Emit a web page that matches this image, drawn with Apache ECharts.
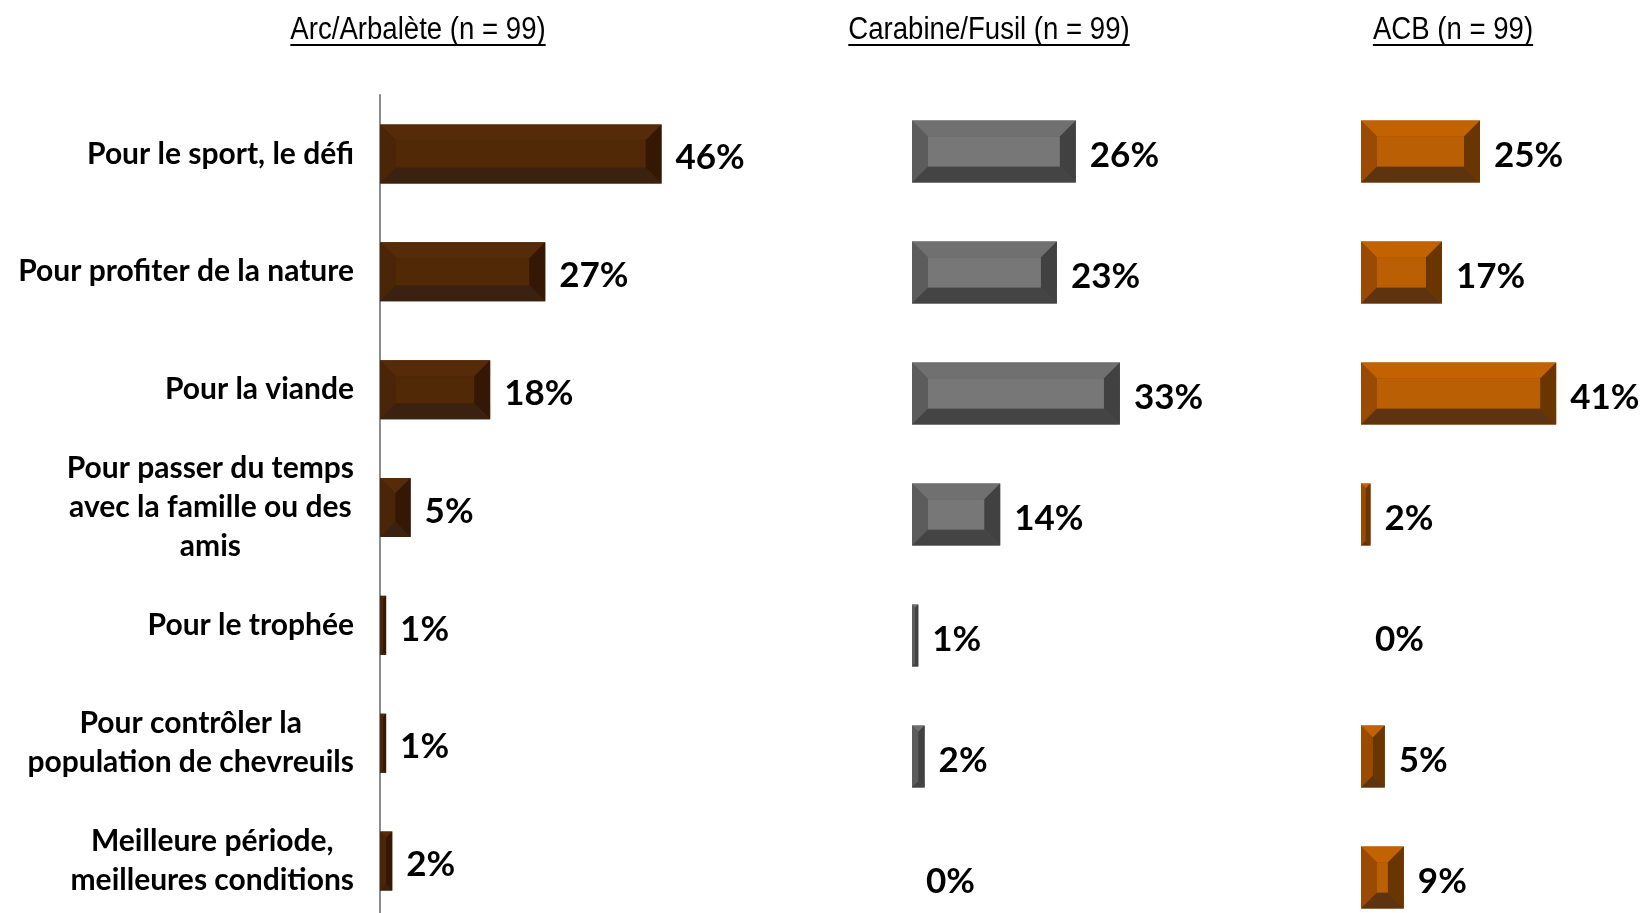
<!DOCTYPE html>
<html><head><meta charset="utf-8">
<script src="https://cdn.jsdelivr.net/npm/echarts@6/dist/echarts.min.js"></script>
<style>html,body{margin:0;padding:0;background:#fff;overflow:hidden}#c{width:1643px;height:960px}</style>
</head><body><div id="c"></div>
<script>
const categories = ["Pour le sport, le défi","Pour profiter de la nature","Pour la viande","Pour passer du temps\navec la famille ou des\namis","Pour le trophée","Pour contrôler la\npopulation de chevreuils","Meilleure période,\nmeilleures conditions"];
const panelTitles = ["Arc/Arbalète (n = 99)","Carabine/Fusil (n = 99)","ACB (n = 99)"];
const arcValues = [46,27,18,5,1,1,2];
const carabineValues = [26,23,33,14,1,2,0];
const acbValues = [25,17,41,2,0,5,9];

const palettes = [
  {top:'#562b0a', center:'#512907', left:'#4a2507', right:'#341705', bottom:'#3b2210'},
  {top:'#707070', center:'#777777', left:'#5c5c5c', right:'#414141', bottom:'#444444'},
  {top:'#c26200', center:'#bb5f04', left:'#9a4a02', right:'#693500', bottom:'#5e3410'}
];
const valueFont = 'bold 35px Lato';

function bevelRender(pal, barH){
  return function(params, api){
    const v = api.value(0), idx = api.value(1);
    const s = api.coord([0, idx]), e = api.coord([v, idx]);
    const x0 = s[0], x1 = e[0], yc = s[1];
    const y0 = yc - barH/2, y1 = yc + barH/2;
    const w = x1 - x0;
    const ch = [];
    if (w > 0.5) {
      const b = Math.min(16, w/2, barH/2);
      ch.push({type:'rect', shape:{x:x0, y:y0, width:w, height:barH}, style:{fill:pal.left}});
      ch.push({type:'polygon', shape:{points:[[x0,y0],[x1,y0],[x1-b,y0+b],[x0+b,y0+b]]}, style:{fill:pal.top}});
      ch.push({type:'polygon', shape:{points:[[x0,y0],[x0+b,y0+b],[x0+b,y1-b],[x0,y1]]}, style:{fill:pal.left}});
      ch.push({type:'polygon', shape:{points:[[x1,y0],[x1,y1],[x1-b,y1-b],[x1-b,y0+b]]}, style:{fill:pal.right}});
      ch.push({type:'polygon', shape:{points:[[x0,y1],[x0+b,y1-b],[x1-b,y1-b],[x1,y1]]}, style:{fill:pal.bottom}});
      if (w - 2*b > 0) ch.push({type:'rect', shape:{x:x0+b, y:y0+b, width:w-2*b, height:barH-2*b}, style:{fill:pal.center}});
    }
    ch.push({type:'text', x:x1+14, y:yc+4, style:{text:v+'%', fill:'#000', font:valueFont, align:'left', verticalAlign:'middle'}});
    return {type:'group', children:ch};
  };
}

const toData = arr => arr.map((v,i)=>[v,i]);
const grids = [
  {left:380, top:95, width:306, height:825},
  {left:912, top:91, width:315, height:847},
  {left:1361, top:91, width:238, height:847}
];
const seriesVals = [arcValues, carabineValues, acbValues];
const barHeights = [59, 62, 62];

const chart = echarts.init(document.getElementById('c'));

const tctx = document.createElement('canvas').getContext('2d');
const titleFont = '31px "Liberation Sans", sans-serif';
const titleScale = 0.89;
tctx.font = titleFont;
const titleCenters = [418, 989, 1453];
const graphic = [];
panelTitles.forEach((t,i)=>{
  const w = tctx.measureText(t).width * titleScale;
  const lx = titleCenters[i]-w/2;
  graphic.push({type:'text', x: lx, y: 15, scaleX: titleScale, style:{text:t, font:titleFont, fill:'#000', x:0, y:0}});
  graphic.push({type:'rect', shape:{x:lx, y:44, width:w, height:2}, style:{fill:'#000'}});
});

chart.setOption({
  animation:false,
  graphic: graphic,
  grid: grids,
  xAxis: grids.map((g,i)=>({type:'value', gridIndex:i, min:0, max:50, show:false})),
  yAxis: grids.map((g,i)=>({
    type:'category', gridIndex:i, data:categories, inverse:true, show: i===0,
    axisLine:{show:i===0, lineStyle:{color:'#8c8c8c', width:2}},
    axisTick:{show:false}, splitLine:{show:false},
    axisLabel:{
      show:i===0, align:'right', margin:26,
      formatter: v => v.split('\n').map(s=>'{c|'+s+'}').join('\n'),
      rich:{c:{align:'center', fontSize:30, fontWeight:'bold', fontFamily:'Lato', lineHeight:39, color:'#000'}}
    }
  })),
  series: seriesVals.map((arr,i)=>({
    type:'custom', xAxisIndex:i, yAxisIndex:i,
    encode:{x:0, y:1},
    data: toData(arr),
    renderItem: bevelRender(palettes[i], barHeights[i])
  }))
});
</script></body></html>
